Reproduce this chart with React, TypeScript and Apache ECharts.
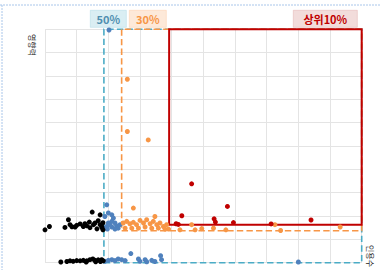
import React, { useEffect, useRef } from "react";
import * as echarts from "echarts";

// ---- data (axis units: x 0..10, y 0..10) ----
const blackPts: number[][] = [
  [0.0, 1.41], [0.14, 1.55], [0.63, 1.51], [0.74, 1.84], [0.79, 1.63], [0.85, 1.54],
  [0.95, 1.53], [1.11, 1.66], [1.21, 1.55], [1.26, 1.67], [1.4, 1.74], [1.49, 2.17],
  [1.53, 1.63], [1.58, 1.7], [1.68, 1.8], [1.74, 2.05], [1.74, 1.63], [1.79, 1.55],
  [1.83, 1.71], [1.8, 1.5], [1.64, 1.45], [1.83, 1.41], [1.42, 1.5], [1.0, 1.6], [1.32, 1.58],
  [0.5, 0.03], [0.69, 0.05], [0.79, 0.08], [0.89, 0.06], [1.0, 0.09], [1.11, 0.08],
  [1.21, 0.1], [1.32, 0.08], [1.42, 0.13], [1.51, 0.16], [1.58, 0.1], [1.68, 0.12],
  [1.79, 0.13], [1.84, 0.08], [1.6, 0.04], [1.3, 0.03], [1.75, 0.05],
];
const bluePts: number[][] = [
  [1.95, 2.48], [2.0, 2.13], [2.11, 2.05], [1.89, 1.98], [2.16, 1.91], [2.11, 1.77],
  [2.0, 1.7], [2.21, 1.7], [2.26, 1.58], [1.95, 1.55], [2.11, 1.53], [2.31, 1.48],
  [2.21, 1.44], [1.89, 1.48], [2.37, 1.63], [2.05, 1.62], [1.97, 1.44], [2.02, 9.97],
  [1.89, 0.06], [2.0, 0.1], [2.11, 0.13], [2.21, 0.09], [2.31, 0.16], [2.42, 0.13],
  [2.53, 0.09], [2.71, 0.39], [2.95, 0.16], [3.0, 0.06], [3.16, 0.13], [3.21, 0.04],
  [3.37, 0.1], [3.47, 0.05], [3.65, 0.3], [3.68, 0.13], [8.0, 0.03],
];
const orangePts: number[][] = [
  [2.6, 7.86], [2.6, 5.62], [3.26, 5.26], [2.79, 2.34], [3.47, 1.98],
  [2.47, 1.7], [2.58, 1.77], [2.68, 1.67], [2.79, 1.73], [2.89, 1.63], [3.0, 1.81],
  [3.11, 1.7], [3.21, 1.84], [3.32, 1.67], [3.42, 1.77], [3.53, 1.63], [3.63, 1.7],
  [3.74, 1.55], [2.53, 1.48], [2.74, 1.48], [2.95, 1.48], [3.16, 1.53], [3.37, 1.48],
  [3.58, 1.48], [3.79, 1.44], [3.84, 1.63], [3.9, 1.44], [4.26, 1.41], [4.63, 1.63],
  [4.74, 1.41], [4.95, 1.46], [5.32, 1.48], [5.71, 1.41], [7.26, 1.63], [7.44, 1.38],
  [9.32, 1.53],
];
const redPts: number[][] = [
  [4.32, 2.01], [4.63, 3.38], [5.76, 2.41], [5.34, 1.88], [5.38, 1.74], [5.95, 1.72],
  [7.14, 1.66], [8.4, 1.83], [4.14, 1.67], [4.21, 1.64],
];

const boxNames = ["50%", "30%", "상위10%"];
const boxMinX = [1.86, 2.42, 3.92];
const boxMinY = [0, 1.37, 1.63];
const boxMaxX = [10, 10, 10];
const boxMaxY = [10, 10, 10];

const xAxisName = "인용수";
const yAxisName = "영향력";

export default function App() {
  const ref = useRef<HTMLDivElement>(null);
  useEffect(() => {
    if (!ref.current) return;
    const chart = echarts.init(ref.current, null, { renderer: "svg" });
    const boxStyles = [
      { borderColor: "#4bacc6", borderType: "dashed", borderWidth: 1.6 },
      { borderColor: "#f79646", borderType: "dashed", borderWidth: 1.6 },
      { borderColor: "#c00000", borderType: "solid", borderWidth: 2 },
    ];
    const areas = boxNames.map((n, i) => [
      {
        name: n,
        xAxis: boxMinX[i],
        yAxis: boxMinY[i],
        itemStyle: { color: "rgba(0,0,0,0)", ...boxStyles[i] },
      },
      { xAxis: boxMaxX[i], yAxis: boxMaxY[i] },
    ]);
    const labelBox = (
      x: number, w: number, text: string, fill: string, stroke: string, color: string
    ) => ({
      type: "group",
      left: x,
      top: 10,
      children: [
        { type: "rect", shape: { x: 0, y: 0, width: w, height: 17 }, style: { fill, stroke, lineWidth: 0.6 } },
        {
          type: "text",
          x: w / 2,
          y: 8.5,
          style: {
            text,
            fill: color,
            font: "bold 11px 'Noto Sans CJK KR', 'Noto Sans', sans-serif",
            align: "center",
            verticalAlign: "middle",
          },
        },
      ],
    });
    const sc = (data: number[][], color: string, extra: any = {}) => ({
      type: "scatter",
      data,
      symbolSize: 5,
      clip: false,
      itemStyle: { color, opacity: 1 },
      ...extra,
    });
    chart.setOption({
      animation: false,
      grid: { left: 45, top: 29.3, right: 19.3, bottom: 7.3, containLabel: false },
      xAxis: {
        type: "value",
        min: 0,
        max: 10,
        interval: 1,
        axisLine: { show: false },
        axisTick: { show: false },
        axisLabel: { show: false },
        splitLine: { show: true, lineStyle: { color: "#e4e4e4", width: 1 } },
      },
      yAxis: {
        type: "value",
        min: 0,
        max: 10,
        interval: 1,
        axisLine: { show: false },
        axisTick: { show: false },
        axisLabel: { show: false },
        splitLine: { show: true, lineStyle: { color: "#e4e4e4", width: 1 } },
      },
      series: [
        sc(bluePts, "#4f81bd", { markArea: { silent: true, label: { show: false }, data: areas } }),
        sc(blackPts, "#000000"),
        sc(orangePts, "#f79646"),
        sc(redPts, "#c00000"),
      ],
      graphic: [
        { type: "line", shape: { x1: 0, y1: 5, x2: 381, y2: 5 }, style: { stroke: "#a9c6ea", lineWidth: 1, lineDash: [2, 1] } },
        { type: "line", shape: { x1: 2, y1: 5, x2: 2, y2: 270 }, style: { stroke: "#a9c6ea", lineWidth: 1, lineDash: [2, 1] } },
        labelBox(90, 36, boxNames[0], "#daeef3", "#b7dde8", "#4f8fb0"),
        labelBox(129, 37, boxNames[1], "#fde9d9", "#fbd4b4", "#f79646"),
        labelBox(293, 64, boxNames[2], "#f2dcdb", "#e6b9b8", "#c00000"),
        {
          type: "text",
          x: 32,
          y: 45,
          rotation: -Math.PI / 2,
          style: {
            text: yAxisName,
            fill: "#222",
            font: "8px 'Noto Sans CJK KR', sans-serif",
            align: "center",
            verticalAlign: "middle",
          },
        },
        {
          type: "text",
          x: 370,
          y: 256,
          rotation: -Math.PI / 2,
          style: {
            text: xAxisName,
            fill: "#222",
            font: "8px 'Noto Sans CJK KR', sans-serif",
            align: "center",
            verticalAlign: "middle",
          },
        },
      ],
    });
    return () => chart.dispose();
  }, []);
  return (
    <div
      ref={ref}
      style={{ position: "fixed", left: 0, top: 0, width: 381, height: 270, background: "#fff" }}
    />
  );
}
